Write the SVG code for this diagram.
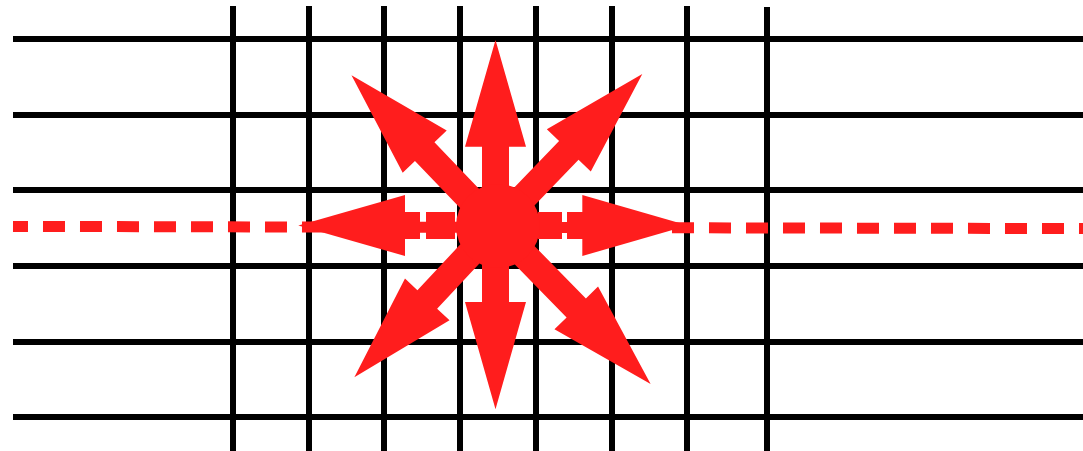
<svg xmlns="http://www.w3.org/2000/svg" width="1083" height="451" viewBox="0 0 1083 451">
  <style>
    .g { stroke: #000; stroke-width: 6; fill: none; }
    .r { fill: #ff1d1d; }
    .dash { stroke: #ff1d1d; stroke-width: 11; stroke-dasharray: 22 15; stroke-dashoffset: 7; fill: none; }
  </style>
  <defs>
    <polygon id="arr" points="0,-13.5 1,-13.5 1,-30.5 2,0 1,30.5 1,13.5 0,13.5"/>
  </defs>
  <rect width="1083" height="451" fill="#fff"/>
  <g id="grid" class="g">
    <line x1="13" y1="39" x2="1083" y2="39"/>
    <line x1="13" y1="115" x2="1083" y2="115"/>
    <line x1="13" y1="190" x2="1083" y2="190"/>
    <line x1="13" y1="266" x2="1083" y2="266"/>
    <line x1="13" y1="342" x2="1083" y2="342"/>
    <line x1="13" y1="417" x2="1083" y2="417"/>
    <line x1="233" y1="6" x2="233" y2="451"/>
    <line x1="309" y1="6" x2="309" y2="451"/>
    <line x1="384" y1="6" x2="384" y2="451"/>
    <line x1="460" y1="6" x2="460" y2="451"/>
    <line x1="536" y1="6" x2="536" y2="451"/>
    <line x1="612" y1="6" x2="612" y2="451"/>
    <line x1="687" y1="6" x2="687" y2="451"/>
    <line x1="767" y1="7" x2="767" y2="451"/>
  </g>
  <g id="connectors">
    <line id="dashed-line" class="dash" x1="13" y1="226.4" x2="1083" y2="228.6"/>
  </g>
  <g id="burst" class="r">
    <g id="arrow-up" transform="translate(495.5,226) rotate(-90)">
      <polygon points="0,-13.5 79.3,-13.5 79.3,-30.5 186,0 79.3,30.5 79.3,13.5 0,13.5"/>
    </g>
    <g id="arrow-down" transform="translate(495.5,226) rotate(90)">
      <polygon points="0,-13.5 76,-13.5 76,-30.5 183.3,0 76,30.5 76,13.5 0,13.5"/>
    </g>
    <g id="arrow-up-left" transform="translate(496,226) rotate(-133.8)">
      <polygon points="0,-13.5 103,-13.5 103,-30.5 208.8,0 103,30.5 103,13.5 0,13.5"/>
    </g>
    <g id="arrow-up-right" transform="translate(496,226) rotate(-46.1)">
      <polygon points="0,-13.5 105,-13.5 105,-30.5 211,0 105,30.5 105,13.5 0,13.5"/>
    </g>
    <g id="arrow-down-left" transform="translate(496,226) rotate(133.1)">
      <polygon points="0,-13.5 100.6,-13.5 100.6,-30.5 207.3,0 100.6,30.5 100.6,13.5 0,13.5"/>
    </g>
    <g id="arrow-down-right" transform="translate(496,226) rotate(45.6)">
      <polygon points="0,-13.5 114.7,-13.5 114.7,-30.5 221,0 114.7,30.5 114.7,13.5 0,13.5"/>
    </g>
    <g id="arrow-left" transform="translate(496,225.5) rotate(180)">
      <rect x="41" y="-13.5" width="29" height="27"/>
      <rect x="76" y="-13.5" width="16" height="27"/>
      <polygon points="91,-30.5 197.7,0 91,30.5"/>
    </g>
    <g id="arrow-right" transform="translate(496,225.5)">
      <rect x="42" y="-13.5" width="24" height="27"/>
      <rect x="71" y="-13.5" width="16" height="27"/>
      <polygon points="86.3,-30.5 192,0 86.3,30.5"/>
    </g>
    <circle id="center" cx="498" cy="226" r="42"/>
  </g>
</svg>
